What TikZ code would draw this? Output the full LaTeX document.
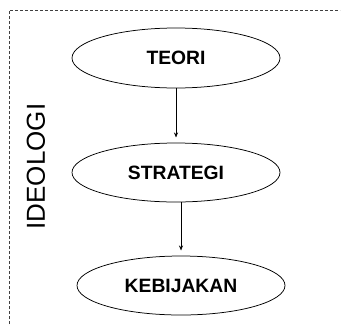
\documentclass[tikz,border=0pt]{standalone}
\usepackage{fontspec}
\setmainfont{Liberation Sans}
\usetikzlibrary{shapes.geometric,arrows.meta}
\begin{document}
\begin{tikzpicture}[x=1pt,y=-1pt,
  oval/.style={ellipse,draw,line width=0.75pt,minimum width=208pt,minimum height=60pt,inner sep=0pt,font=\fontsize{19.3}{21}\selectfont\bfseries},
  conn/.style={line width=0.6pt,-{Stealth[length=5pt,width=4pt]}},
  frame/.style={draw=black!75,line width=0.9pt,dash pattern=on 3pt off 2pt}]
\useasboundingbox (0,0) rectangle (344,324);
\coordinate (tl) at (9,10);
\coordinate (tr) at (340,10);
\coordinate (bl) at (9,324);
\draw[frame] (bl) -- (tl) -- (tr);
\node[oval] (teori) at (176,58) {TEORI};
\node[oval,minimum height=59pt] (strategi) at (176,172.5) {STRATEGI};
\node[oval,minimum height=59pt] (kebijakan) at (181,285.5) {KEBIJAKAN};
\node[rotate=90,font=\fontsize{26}{28}\selectfont,inner sep=0pt] (ideologi) at (36,166.5) {IDEOLOGI};
\coordinate (a1) at (176,137.5);
\coordinate (a2) at (181,250.5);
\draw[conn] (teori.south) -- (a1);
\draw[conn] (strategi.south -| a2) -- (a2);
\end{tikzpicture}
\end{document}
